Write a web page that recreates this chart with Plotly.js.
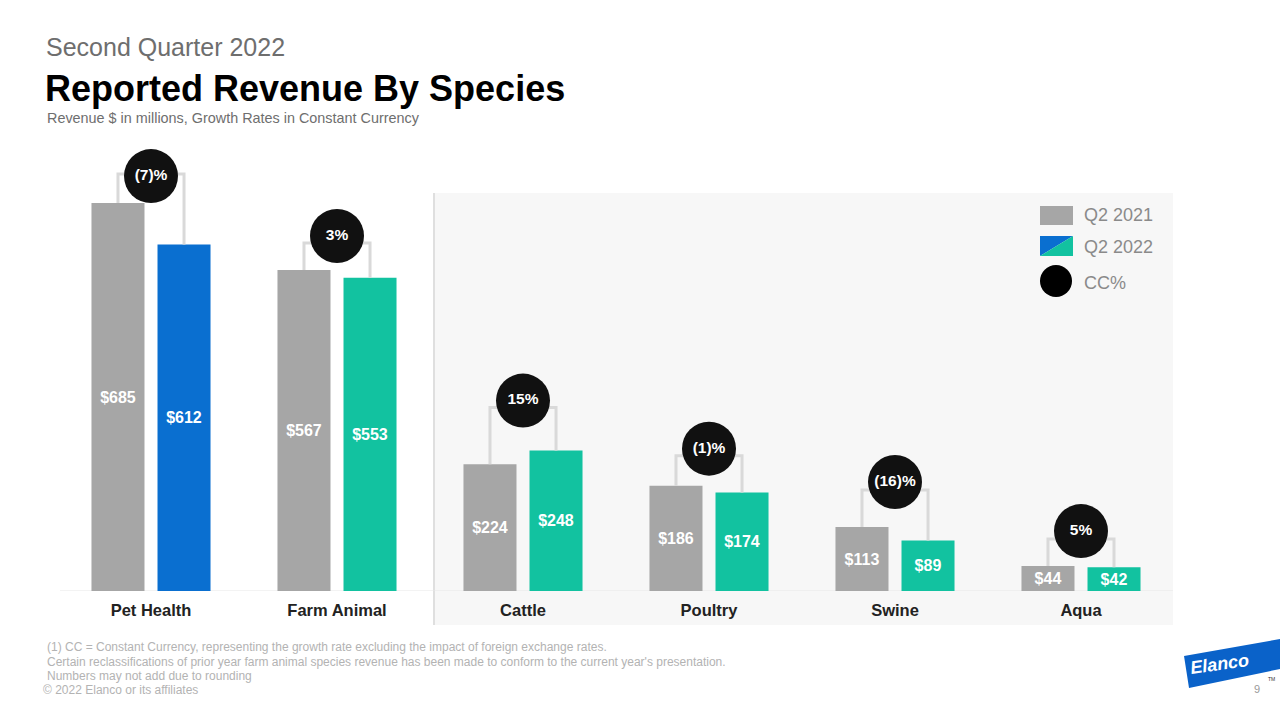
<!DOCTYPE html>
<html>
<head>
<meta charset="utf-8">
<script src="https://cdn.plot.ly/plotly-3.0.1.min.js"></script>
<style>
  html, body { margin: 0; padding: 0; background: #ffffff; }
  #chart { width: 1280px; height: 720px; }
</style>
</head>
<body>
<div id="chart"></div>
<script>
// ---------- DATA ----------
const categories = ['Pet Health', 'Farm Animal', 'Cattle', 'Poultry', 'Swine', 'Aqua'];
const q2_2021 = [685, 567, 224, 186, 113, 44];
const q2_2022 = [612, 553, 248, 174, 89, 42];
const ccGrowth = ['(7)%', '3%', '15%', '(1)%', '(16)%', '5%'];
const seriesNames = ['Q2 2021', 'Q2 2022', 'CC%'];

// ---------- STYLE / LAYOUT CONSTANTS ----------
const FONT = '"Liberation Sans", Arial, Helvetica, sans-serif';
const GRAY = '#a6a6a6';
const BLUE = '#0a6fd0';
const TEAL = '#12c2a0';
const q22Colors = [BLUE, TEAL, TEAL, TEAL, TEAL, TEAL];
const W = 1280, H = 720;
const M = { l: 58, r: 106, t: 138, b: 129 };
const plotW = W - M.l - M.r, plotH = H - M.t - M.b;
const Y_MAX = 800;
const pxPerUnit = plotH / Y_MAX;
// bracket and circle lift above the taller bar, in pixels
const bracketLiftPx = [29, 27, 43, 30, 37, 27];
const circleLiftPx = [27, 34, 50, 37, 45, 35];
const BAR_W = 0.285, OFF_A = -0.32, OFF_B = 0.035;
const cA = OFF_A + BAR_W / 2, cB = OFF_B + BAR_W / 2;

const px2x = px => (px - M.l) / plotW;
const py2y = py => (H - M.b - py) / plotH;

const idx = categories.map((_, i) => i);

// ---------- TRACES ----------
const bracketX = [], bracketY = [];
idx.forEach(i => {
  const lvl = Math.max(q2_2021[i], q2_2022[i]) + bracketLiftPx[i] / pxPerUnit;
  bracketX.push(i + cA, i + cA, i + cB, i + cB, null);
  bracketY.push(q2_2021[i], lvl, lvl, q2_2022[i], null);
});

const traces = [
  {
    type: 'bar', name: seriesNames[0], x: idx, y: q2_2021,
    width: BAR_W, offset: OFF_A,
    marker: { color: GRAY },
    text: q2_2021.map(v => '$' + v), textposition: 'inside', insidetextanchor: 'middle',
    constraintext: 'none', textangle: 0,
    textfont: { family: FONT, size: 16, color: '#ffffff', weight: 'bold' },
    showlegend: false
  },
  {
    type: 'bar', name: seriesNames[1], x: idx, y: q2_2022,
    width: BAR_W, offset: OFF_B,
    marker: { color: q22Colors },
    text: q2_2022.map(v => '$' + v), textposition: 'inside', insidetextanchor: 'middle',
    constraintext: 'none', textangle: 0,
    textfont: { family: FONT, size: 16, color: '#ffffff', weight: 'bold' },
    showlegend: false
  },
  {
    type: 'scatter', mode: 'lines', x: bracketX, y: bracketY,
    line: { color: '#d9d9d9', width: 3 }, connectgaps: false,
    showlegend: false, hoverinfo: 'skip'
  },
  {
    type: 'scatter', mode: 'markers+text', name: seriesNames[2],
    x: idx,
    y: idx.map(i => Math.max(q2_2021[i], q2_2022[i]) + circleLiftPx[i] / pxPerUnit),
    marker: { size: 54, color: '#111111', line: { width: 0 } },
    text: ccGrowth, textposition: 'middle center',
    textfont: { family: FONT, size: 15.5, color: '#ffffff', weight: 'bold' },
    cliponaxis: false, showlegend: false
  }
];

// ---------- SHAPES ----------
function pathPx(points) {
  return 'M ' + points.map(p => px2x(p[0]) + ',' + py2y(p[1])).join(' L ') + ' Z';
}
const shapes = [
  { type: 'rect', xref: 'paper', yref: 'paper', layer: 'below',
    x0: px2x(435), x1: px2x(1173), y0: py2y(625), y1: py2y(193),
    fillcolor: '#f7f7f7', line: { width: 0 } },
  { type: 'line', xref: 'paper', yref: 'paper', layer: 'below',
    x0: px2x(434), x1: px2x(434), y0: py2y(625), y1: py2y(193),
    line: { color: '#d4d4d4', width: 1.5 } },
  { type: 'line', xref: 'paper', yref: 'y', layer: 'below',
    x0: px2x(60), x1: px2x(1173), y0: 0, y1: 0,
    line: { color: '#e6e6e6', width: 1 } },
  { type: 'rect', xref: 'paper', yref: 'paper',
    x0: px2x(1040), x1: px2x(1073), y0: py2y(225), y1: py2y(206),
    fillcolor: GRAY, line: { width: 0 } },
  { type: 'path', xref: 'paper', yref: 'paper',
    path: pathPx([[1040, 236], [1073, 236], [1040, 256]]),
    fillcolor: BLUE, line: { width: 0 } },
  { type: 'path', xref: 'paper', yref: 'paper',
    path: pathPx([[1073, 236], [1073, 256], [1040, 256]]),
    fillcolor: TEAL, line: { width: 0 } },
  { type: 'circle', xref: 'paper', yref: 'paper',
    x0: px2x(1040), x1: px2x(1072), y0: py2y(297), y1: py2y(265),
    fillcolor: '#000000', line: { width: 0 } },
  { type: 'path', xref: 'paper', yref: 'paper',
    path: pathPx([[1184, 656], [1280, 639], [1280, 669], [1189, 688]]),
    fillcolor: '#0a62c9', line: { width: 0 } }
];

// ---------- ANNOTATIONS ----------
function ann(text, px, py, size, color, opts) {
  return Object.assign({
    text: text, xref: 'paper', yref: 'paper', x: px2x(px), y: py2y(py),
    xanchor: 'left', yanchor: 'middle', showarrow: false,
    font: { family: FONT, size: size, color: color }
  }, opts || {});
}
const annotations = [
  ann('Second Quarter 2022', 44, 47, 25, '#6e6e6e'),
  ann('Reported Revenue By Species', 43, 89, 36, '#000000',
      { font: { family: FONT, size: 36, color: '#000000', weight: 'bold' } }),
  ann('Revenue $ in millions, Growth Rates in Constant Currency', 45, 118, 14.4, '#6e6e6e'),
  ann(seriesNames[0], 1082, 215, 18, '#8a8a8a'),
  ann(seriesNames[1], 1082, 247, 18, '#8a8a8a'),
  ann(seriesNames[2], 1082, 283, 18, '#8a8a8a'),
  ann('(1) CC = Constant Currency, representing the growth rate excluding the impact of foreign exchange rates.', 45, 647, 12, '#b3b3b3'),
  ann('Certain reclassifications of prior year farm animal species revenue has been made to conform to the current year\'s presentation.', 45, 662, 12, '#b3b3b3'),
  ann('Numbers may not add due to rounding', 45, 676, 12, '#b3b3b3'),
  ann('© 2022 Elanco or its affiliates', 41, 690, 12, '#b3b3b3'),
  ann('Elanco', 1220, 664, 18, '#ffffff',
      { xanchor: 'center', textangle: -8,
        font: { family: FONT, size: 18, color: '#ffffff', weight: 'bold', style: 'italic' } }),
  ann('9', 1257, 689, 11, '#9a9a9a', { xanchor: 'center' }),
  ann('TM', 1271, 679, 5, '#333333', { xanchor: 'center' })
];

const layout = {
  width: W, height: H,
  margin: M,
  paper_bgcolor: '#ffffff',
  plot_bgcolor: 'rgba(0,0,0,0)',
  showlegend: false,
  hovermode: false,
  barmode: 'overlay',
  font: { family: FONT },
  xaxis: {
    range: [-0.5, 5.5], tickvals: idx, ticktext: categories,
    showgrid: false, zeroline: false, showline: false, ticks: '',
    ticklabelstandoff: 7,
    tickfont: { family: FONT, size: 16.5, color: '#222222', weight: 'bold' },
    fixedrange: true
  },
  yaxis: {
    range: [0, Y_MAX], visible: false, showgrid: false, zeroline: false, fixedrange: true
  },
  shapes: shapes,
  annotations: annotations
};

Plotly.newPlot('chart', traces, layout, { staticPlot: true, displayModeBar: false });
</script>
</body>
</html>
